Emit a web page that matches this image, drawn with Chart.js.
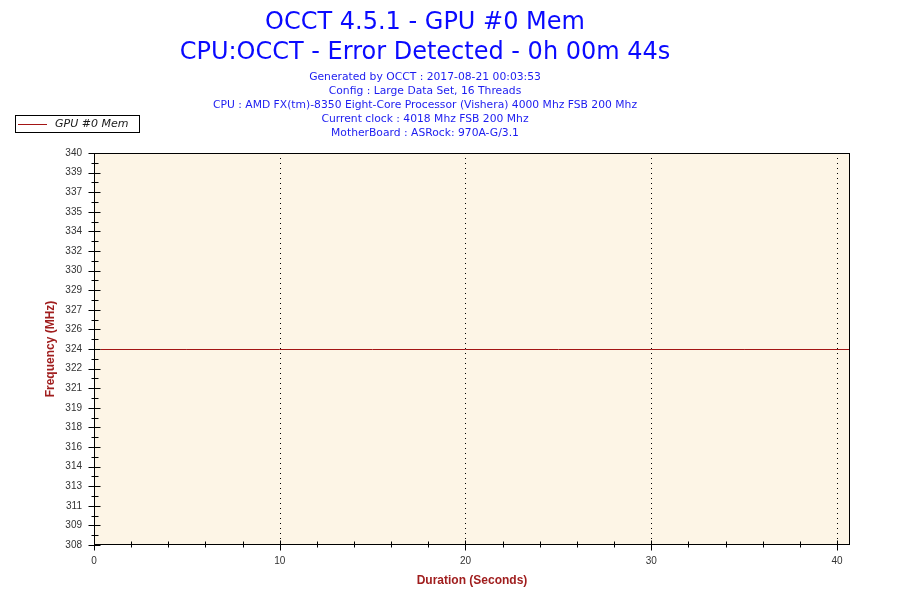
<!DOCTYPE html>
<html>
<head>
<meta charset="utf-8">
<script src="https://cdn.jsdelivr.net/npm/chart.js@4/dist/chart.umd.min.js"></script>
<style>
  html, body { margin: 0; padding: 0; background: #ffffff; }
  #wrap { width: 900px; height: 600px; }
</style>
</head>
<body>
<div id="wrap"><canvas id="myChart" width="900" height="600"></canvas></div>
<script>
// data
const seriesName = 'GPU #0 Mem';
const timeSec = [0.35, 5, 10, 15, 20, 25, 30, 35, 40.7];
const memMhz = [324, 324, 324, 324, 324, 324, 324, 324, 324];

// y tick labels, bottom to top, as printed by OCCT
const yTickLabels = ['308', '309', '311', '313', '314', '316', '318', '319', '321', '322', '324',
  '326', '327', '329', '330', '332', '334', '335', '337', '339', '340'];
const xTickLabels = ['0', '10', '20', '30', '40'];

const titleLines = ['OCCT 4.5.1 - GPU #0 Mem', 'CPU:OCCT - Error Detected - 0h 00m 44s'];
const infoLines = [
  'Generated by OCCT : 2017-08-21 00:03:53',
  'Config : Large Data Set, 16 Threads',
  'CPU : AMD FX(tm)-8350 Eight-Core Processor (Vishera) 4000 Mhz FSB 200 Mhz',
  'Current clock : 4018 Mhz FSB 200 Mhz',
  'MotherBoard : ASRock: 970A-G/3.1'
];

const lineColor = '#a31515';
const plotBg = '#fdf5e6';

// plot frame, dotted grid, tick marks and legend box
const occtFrame = {
  id: 'occtFrame',
  beforeDatasetsDraw(chart) {
    const {ctx, chartArea: a} = chart;
    const xs = chart.scales.x;
    ctx.save();
    ctx.fillStyle = plotBg;
    ctx.fillRect(a.left, a.top, a.right - a.left, a.bottom - a.top);

    // dotted verticals
    ctx.strokeStyle = '#000';
    ctx.lineWidth = 1;
    ctx.setLineDash([1, 4]);
    xs.ticks.forEach(t => {
      if (t.value === xs.min) return;
      const px = Math.round(xs.getPixelForValue(t.value)) + 0.5;
      ctx.beginPath();
      ctx.moveTo(px, a.top);
      ctx.lineTo(px, a.bottom);
      ctx.stroke();
    });
    ctx.restore();
    // keep the 1px series line on a whole pixel row
    ctx.save();
    ctx.translate(0, 0.5);
  },
  afterDatasetsDraw(chart) {
    chart.ctx.restore();
  },
  afterDraw(chart) {
    const {ctx, chartArea: a} = chart;
    const xs = chart.scales.x, ys = chart.scales.y;
    ctx.save();
    ctx.strokeStyle = '#000';
    ctx.lineWidth = 1;
    const L = a.left + 0.5, R = Math.round(a.right) - 0.5;
    const T = a.top + 0.5, B = Math.round(a.bottom) - 0.5;
    ctx.strokeRect(L, T, R - L, B - T);

    ctx.beginPath();
    // y major + minor
    const yt = ys.ticks;
    yt.forEach((t, i) => {
      const py = Math.round(ys.getPixelForValue(t.value)) + 0.5;
      ctx.moveTo(L - 6, py); ctx.lineTo(L + 6, py);
      if (i < yt.length - 1) {
        const mid = (t.value + yt[i + 1].value) / 2;
        const pm = Math.round(ys.getPixelForValue(mid)) + 0.5;
        ctx.moveTo(L - 3, pm); ctx.lineTo(L + 4, pm);
      }
    });
    // x major + minor
    xs.ticks.forEach(t => {
      const px = Math.round(xs.getPixelForValue(t.value)) + 0.5;
      ctx.moveTo(px, B - 4); ctx.lineTo(px, B + 6);
    });
    for (let v = xs.min + 2; v < xs.max; v += 2) {
      if (v % 10 === 0) continue;
      const px = Math.round(xs.getPixelForValue(v)) + 0.5;
      ctx.moveTo(px, B - 3); ctx.lineTo(px, B + 3);
    }
    ctx.stroke();

    // legend
    const ds = chart.data.datasets[0];
    ctx.fillStyle = '#fff';
    ctx.fillRect(15.5, 115.5, 124, 17);
    ctx.strokeStyle = '#000';
    ctx.strokeRect(15.5, 115.5, 124, 17);
    ctx.strokeStyle = ds.borderColor;
    ctx.beginPath();
    ctx.moveTo(18, 124.5); ctx.lineTo(47, 124.5);
    ctx.stroke();
    ctx.fillStyle = '#1a1a1a';
    ctx.font = 'italic 11px "DejaVu Sans"';
    ctx.textBaseline = 'middle';
    ctx.fillText(ds.label, 55, 124.5);
    ctx.restore();
  }
};

const ctx = document.getElementById('myChart');

new Chart(ctx, {
  type: 'line',
  data: {
    datasets: [{
      label: seriesName,
      data: timeSec.map((t, i) => ({x: t, y: memMhz[i]})),
      borderColor: lineColor,
      borderWidth: 1,
      pointRadius: 0,
      tension: 0,
      fill: false
    }]
  },
  options: {
    responsive: false,
    animation: false,
    devicePixelRatio: 1,
    layout: { padding: { left: 0, right: 50, top: 0, bottom: 0 } },
    plugins: {
      legend: { display: false },
      tooltip: { enabled: false },
      title: {
        display: true,
        text: titleLines,
        color: '#0a0aff',
        font: { family: 'DejaVu Sans', size: 24, weight: 'normal', lineHeight: 1.25 },
        padding: { top: 8, bottom: 2 }
      },
      subtitle: {
        display: true,
        text: infoLines,
        color: '#1c1cf0',
        font: { family: 'DejaVu Sans', size: 10.75, weight: 'normal', lineHeight: 14 / 10.75 },
        padding: { top: 0, bottom: 13 }
      }
    },
    scales: {
      x: {
        type: 'linear',
        min: 0,
        max: 40.7,
        grid: { display: false },
        border: { display: false },
        ticks: {
          stepSize: 10,
          includeBounds: false,
          autoSkip: false,
          maxRotation: 0,
          padding: 2,
          color: '#333',
          font: { family: 'Liberation Sans', size: 10 },
          callback: (v, i) => xTickLabels[i]
        },
        title: {
          display: true,
          text: 'Duration (Seconds)',
          color: '#a01e1e',
          font: { family: 'Liberation Sans', size: 12, weight: 'bold', lineHeight: 1.2 },
          padding: { top: 0, bottom: 12 }
        },
        afterFit: s => { s.height = 55; }
      },
      y: {
        type: 'linear',
        min: 308,
        max: 340,
        grid: { display: false },
        border: { display: false },
        ticks: {
          stepSize: 1.6,
          autoSkip: false,
          padding: 4,
          color: '#333',
          font: { family: 'Liberation Sans', size: 10 },
          callback: (v, i) => yTickLabels[i]
        },
        title: {
          display: true,
          text: 'Frequency (MHz)',
          color: '#a01e1e',
          font: { family: 'Liberation Sans', size: 12, weight: 'bold', lineHeight: 1.2 },
          padding: { top: 43, bottom: 0 }
        },
        afterFit: s => { s.width = 94; }
      }
    }
  },
  plugins: [occtFrame]
});
</script>
</body>
</html>
